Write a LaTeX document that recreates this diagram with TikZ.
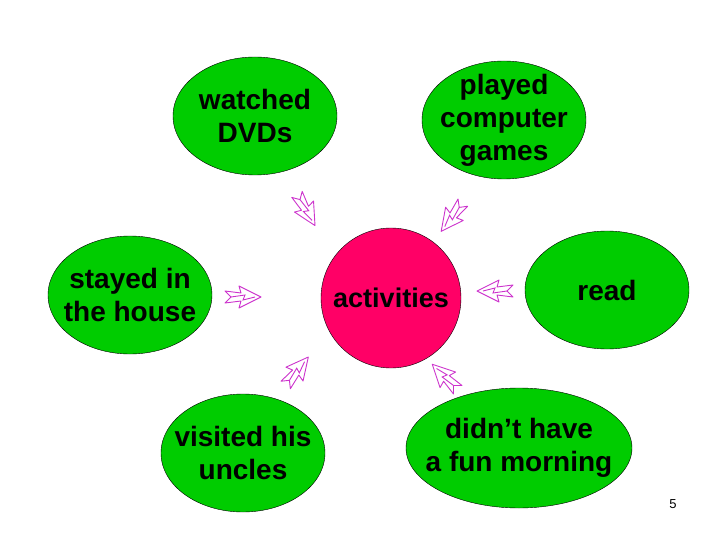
\documentclass[tikz,border=0pt]{standalone}
\usepackage{fontspec}
\setmainfont{Liberation Sans}
\usetikzlibrary{shapes.geometric}
\definecolor{leafgreen}{RGB}{0,204,0}
\definecolor{hotpink}{RGB}{255,0,102}
\definecolor{arrowpink}{RGB}{204,51,204}
\tikzset{
  bubble/.style={ellipse,draw,fill=leafgreen,minimum width=164pt,minimum height=118pt,inner sep=0pt},
  words/.style={align=center,font=\bfseries\fontsize{28}{33}\selectfont},
  zigarrow/.pic={
    \draw[arrowpink,line width=0.9pt,line join=round] (-18,-6) -- (-2,-4) -- (-4,-11) -- (18,0) -- (-4,11) -- (-2,4) -- (-18,6) -- (-12,0) -- cycle;
    \draw[arrowpink,line width=0.9pt] (-12,0) -- (2,-2) -- (0,3) -- (12,0);
  }
}

\begin{document}
\begin{tikzpicture}[x=1pt,y=-1pt]
  \useasboundingbox (0,0) rectangle (720,540);
  \node[bubble] (watch) at (255,116) {};
  \node[words] (watchtxt) at (watch) {watched\\DVDs};
  \node[bubble] (play) at (504,120) {};
  \node[words] (playtxt) at (play) {played\\computer\\games};
  \node[bubble] (stay) at (130,295) {};
  \node[words] (staytxt) at (stay) {stayed in\\the house};
  \node[bubble] (read) at (607,290) {};
  \node[words] (readtxt) at (read) {read};
  \node[bubble] (visit) at (243,453) {};
  \node[words] (visittxt) at (visit) {visited his\\uncles};
  \node[bubble,minimum width=226pt,minimum height=120pt] (fun) at (519,448) {};
  \node[words] (funtxt) at (fun) {didn’t have\\a fun morning};
  \node[circle,draw,fill=hotpink,minimum size=140pt] (act) at (391,298) {};
  \node[words,font=\bfseries\fontsize{27}{32}\selectfont] (acttxt) at (act) {activities};
  % arrows pointing to the middle
  \pic[rotate=-60] at (306,210) {zigarrow};
  \pic[rotate=-127] at (452,217) {zigarrow};
  \pic at (243,297) {zigarrow};
  \pic[rotate=180] at (495,291) {zigarrow};
  \pic[rotate=51] at (297,371) {zigarrow};
  \pic[rotate=135] at (445,377) {zigarrow};
  \node[font=\fontsize{13}{15}\selectfont] (page) at (673,504) {5};
\end{tikzpicture}
\end{document}
